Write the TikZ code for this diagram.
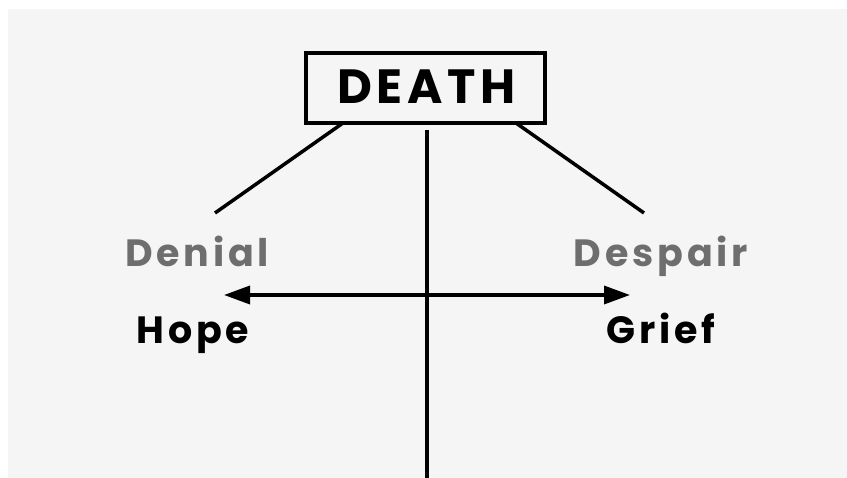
\documentclass[tikz,border=0pt]{standalone}
\usepackage{fontspec}
\setmainfont{Poppins}[UprightFont=* Bold, BoldFont=* Bold]
\newfontfamily\trackfont{Poppins}[UprightFont=* SemiBold, LetterSpace=12]
\newfontfamily\trackbold{Poppins}[UprightFont=* Bold, LetterSpace=10]
\usetikzlibrary{arrows.meta}
\definecolor{bg}{HTML}{F5F5F5}
\definecolor{softgray}{HTML}{6E6E6E}
\tikzset{
  ln/.style={line width=3.5pt, black},
  lbl/.style={inner sep=0pt, anchor=base, font=\trackbold\fontsize{38}{38}\selectfont},
  gray lbl/.style={lbl, text=softgray},
  tip/.style={-{Triangle[length=26pt,width=18pt]}}
}
\begin{document}
\begin{tikzpicture}[x=1pt,y=-1pt]
\useasboundingbox (0,0) rectangle (847,478);
\fill[white] (0,0) rectangle (847,478);
\fill[bg] (8,9) rectangle (847,478);
\node[draw, line width=3.5pt, minimum width=239pt, minimum height=70pt, inner sep=0pt] (death) at (425.5,88) {};
\node[inner sep=0pt, anchor=base, font=\trackbold\fontsize{48}{48}\selectfont] (deathtxt) at (426.5,104) {DEATH};
\coordinate (dl) at (343,123);
\coordinate (dr) at (516,123);
\coordinate (el) at (215,213);
\coordinate (er) at (644,213);
\coordinate (vt) at (427,130);
\coordinate (vb) at (427,478);
\coordinate (hl) at (224,295);
\coordinate (hr) at (630,295);
\coordinate (hc) at (427,295);
\draw[ln] (dl) -- (el);
\draw[ln] (dr) -- (er);
\draw[ln] (vt) -- (vb);
\draw[ln, tip] (hc) -- (hl);
\draw[ln, tip] (hc) -- (hr);
\node[gray lbl] (denial) at (197,267) {Denial};
\node[gray lbl] (despair) at (661,267) {Despair};
\node[lbl] (hope) at (193,344) {Hope};
\node[lbl] (grief) at (661,344) {Grief};
\end{tikzpicture}
\end{document}
